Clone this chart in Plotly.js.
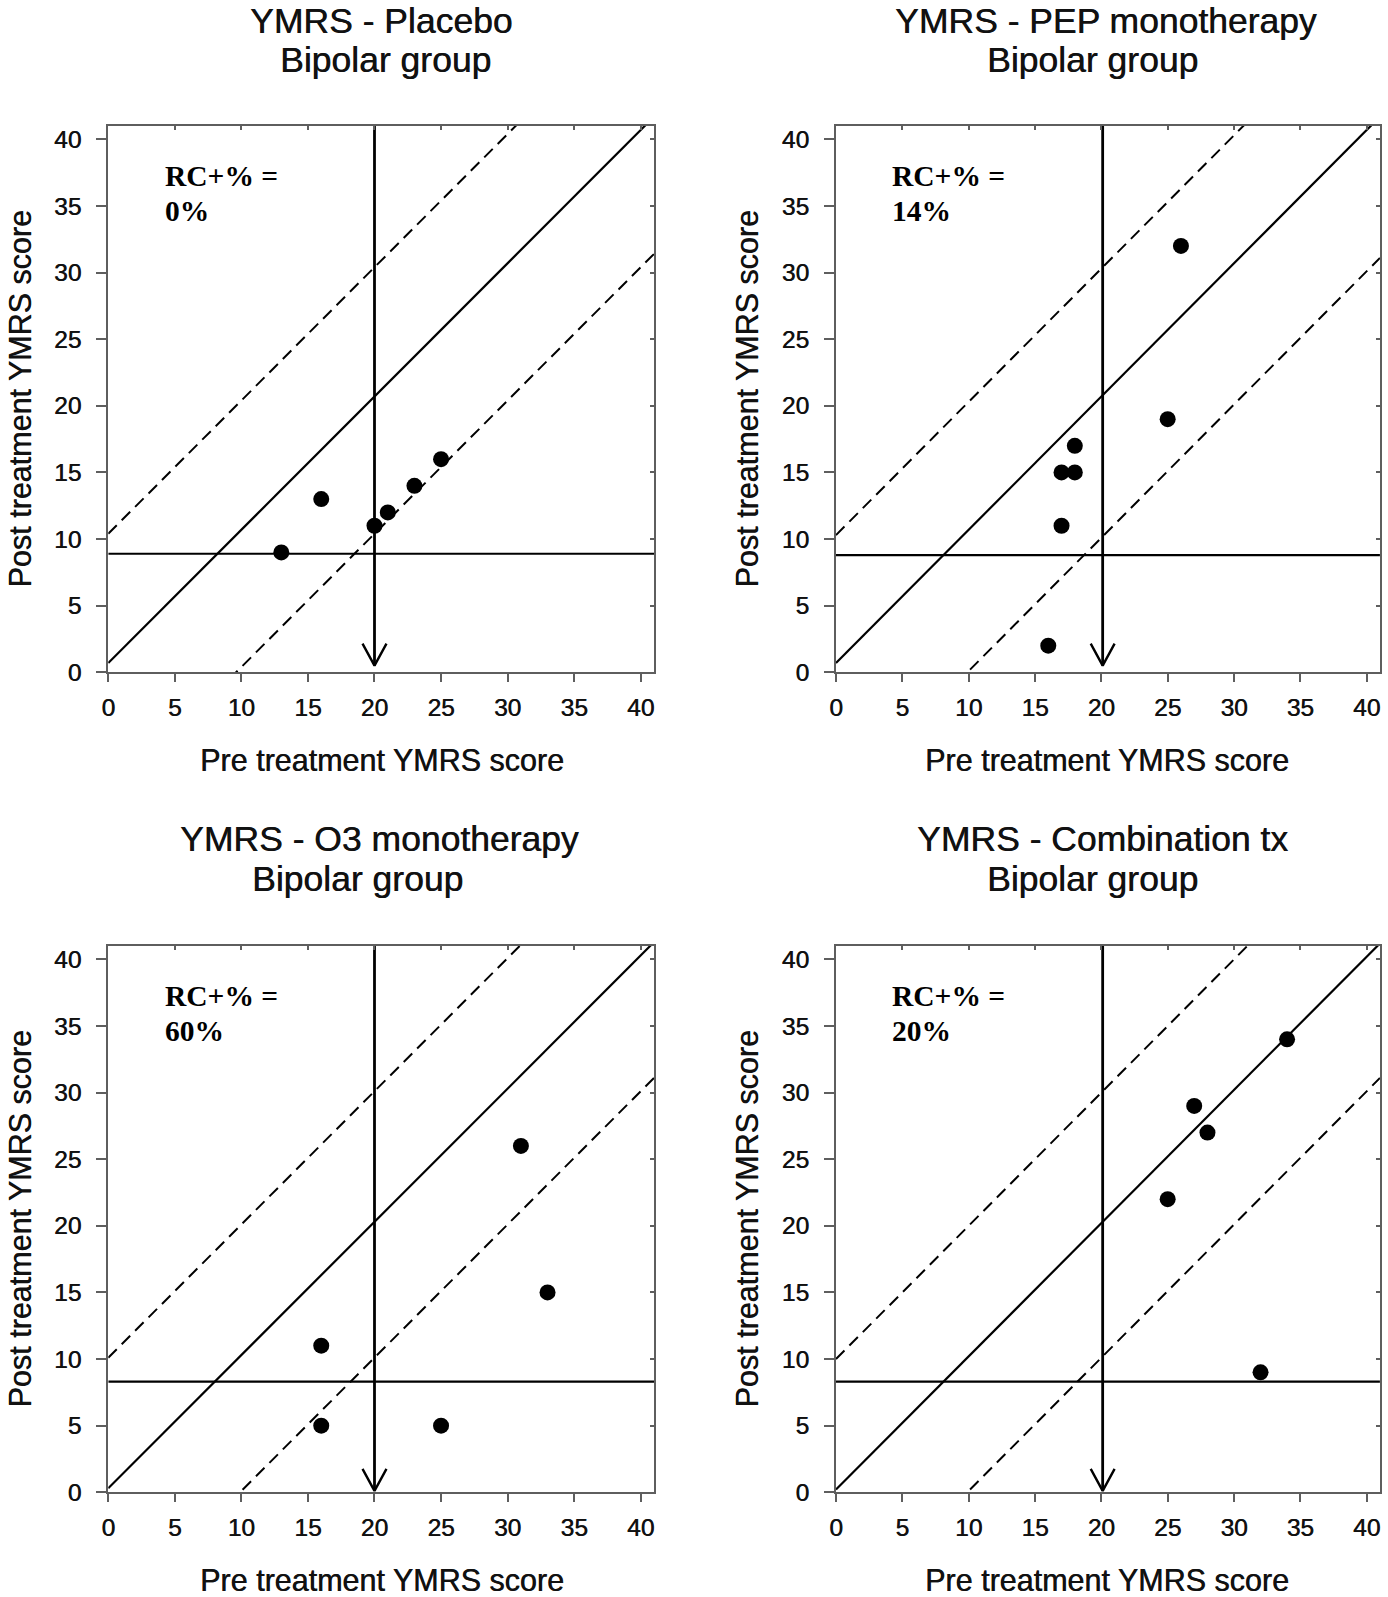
<!DOCTYPE html>
<html>
<head>
<meta charset="utf-8">
<script src="https://cdn.plot.ly/plotly-3.0.1.min.js"></script>
<style>
  html, body { margin: 0; padding: 0; background: #ffffff; }
  #chart { width: 1388px; height: 1597px; }
</style>
</head>
<body>
<div id="chart"></div>
<script>
// ---------------- DATA ----------------
const panelTitles = ['YMRS - Placebo', 'YMRS - PEP monotherapy', 'YMRS - O3 monotherapy', 'YMRS - Combination tx'];
const groupLabel = 'Bipolar group';
const xAxisLabel = 'Pre treatment YMRS score';
const yAxisLabel = 'Post treatment YMRS score';
const rcLabel = 'RC+% =';
const rcPercent = ['0%', '14%', '60%', '20%'];
const tickValues = [0, 5, 10, 15, 20, 25, 30, 35, 40];

const placeboPre  = [13, 16, 20, 21, 23, 25];
const placeboPost = [9, 13, 11, 12, 14, 16];
const pepPre      = [16, 17, 17, 18, 18, 25, 26];
const pepPost     = [2, 11, 15, 15, 17, 19, 32];
const o3Pre       = [16, 16, 25, 31, 33];
const o3Post      = [5, 11, 5, 26, 15];
const comboPre    = [25, 27, 28, 32, 34];
const comboPost   = [22, 29, 27, 9, 34];

// reference lines
const diagOffset   = [0.7, 0.7, 0.3, 0.2];     // solid no-change line: post = pre + offset
const upperOffset  = [10.4, 10.3, 10.1, 10.0]; // dashed upper RC band
const lowerOffset  = [-9.6, -9.9, -9.9, -9.9]; // dashed lower RC band
const cutoffPost   = [8.9, 8.8, 8.3, 8.3];     // horizontal remission cutoff
const cutoffPre    = [20, 20.1, 20, 20.1];     // vertical arrow (pre-treatment cutoff)
const arrowTip     = [0.5, 0.5, 0.1, 0.1];

// ---------------- BUILD ----------------
const preSets  = [placeboPre, pepPre, o3Pre, comboPre];
const postSets = [placeboPost, pepPost, o3Post, comboPost];

const W = 1388, H = 1597;
const AXMAX = 41;
const xDomains = [[0.0780, 0.4712], [0.6023, 0.9942], [0.0780, 0.4712], [0.6023, 0.9942]];
const yDomains = [[0.5790, 0.9211], [0.5790, 0.9211], [0.0656, 0.4076], [0.0656, 0.4076]];

const traces = [];
const layout = {
  width: W, height: H,
  margin: {l: 0, r: 0, t: 0, b: 0},
  paper_bgcolor: '#ffffff', plot_bgcolor: '#ffffff',
  showlegend: false,
  font: {family: 'Liberation Sans, Arial, sans-serif', color: '#111'},
  annotations: []
};

const lineCol = '#5e5e5e';
const heavy = '0.5px 0 0 #222';
const tickFont = {family: 'Liberation Sans, Arial, sans-serif', size: 24.5, color: '#111', shadow: heavy};
const rcFont = {family: 'Liberation Serif, Times New Roman, serif', size: 29.5, color: '#000'};

for (let i = 0; i < 4; i++) {
  const n = i + 1;
  const xa = 'x' + n, ya = 'y' + n;
  const xk = 'xaxis' + n, yk = 'yaxis' + n;
  const ox = 'x' + (n + 4), oy = 'y' + (n + 4);

  layout[xk] = {
    domain: xDomains[i], range: [0, AXMAX], anchor: ya,
    tickmode: 'array', tickvals: tickValues,
    ticks: 'outside', ticklen: 8, tickwidth: 2, tickcolor: lineCol,
    showline: true, linecolor: lineCol, linewidth: 2, mirror: true,
    showgrid: false, zeroline: false, tickfont: tickFont,
    ticklabelstandoff: 4,
    fixedrange: true
  };
  layout[yk] = {
    domain: yDomains[i], range: [0, AXMAX], anchor: xa,
    tickmode: 'array', tickvals: tickValues,
    ticks: 'outside', ticklen: 10, tickwidth: 2, tickcolor: lineCol,
    showline: true, linecolor: lineCol, linewidth: 2, mirror: true,
    showgrid: false, zeroline: false, tickfont: tickFont,
    ticklabelstandoff: 10,
    fixedrange: true
  };
  // inner ticks on top/right
  layout['xaxis' + (n + 4)] = {
    overlaying: xa, anchor: oy, side: 'top', range: [0, AXMAX],
    tickmode: 'array', tickvals: tickValues,
    ticks: 'inside', ticklen: 4, tickwidth: 2, tickcolor: lineCol,
    showticklabels: false, showline: false, showgrid: false, zeroline: false
  };
  layout['yaxis' + (n + 4)] = {
    overlaying: ya, anchor: ox, side: 'right', range: [0, AXMAX],
    tickmode: 'array', tickvals: tickValues,
    ticks: 'inside', ticklen: 4, tickwidth: 2, tickcolor: lineCol,
    showticklabels: false, showline: false, showgrid: false, zeroline: false
  };
  traces.push({x: [], y: [], xaxis: ox, yaxis: oy, type: 'scatter', mode: 'markers', hoverinfo: 'skip'});

  const lx = [0, AXMAX];
  // solid diagonal
  traces.push({x: lx, y: lx.map(v => v + diagOffset[i]), xaxis: xa, yaxis: ya, mode: 'lines',
    line: {color: '#000', width: 2.2}, hoverinfo: 'skip'});
  // dashed bands
  traces.push({x: lx, y: lx.map(v => v + upperOffset[i]), xaxis: xa, yaxis: ya, mode: 'lines',
    line: {color: '#000', width: 2, dash: '12px,7px'}, hoverinfo: 'skip'});
  traces.push({x: lx, y: lx.map(v => v + lowerOffset[i]), xaxis: xa, yaxis: ya, mode: 'lines',
    line: {color: '#000', width: 2, dash: '12px,7px'}, hoverinfo: 'skip'});
  // horizontal cutoff
  traces.push({x: lx, y: [cutoffPost[i], cutoffPost[i]], xaxis: xa, yaxis: ya, mode: 'lines',
    line: {color: '#000', width: 2.2}, hoverinfo: 'skip'});
  // vertical arrow shaft + open head
  const cx = cutoffPre[i], tip = arrowTip[i];
  traces.push({x: [cx, cx], y: [AXMAX + 0.5, tip], xaxis: xa, yaxis: ya, mode: 'lines',
    line: {color: '#000', width: 2.8}, hoverinfo: 'skip'});
  traces.push({x: [cx - 0.9, cx, cx + 0.9], y: [tip + 1.65, tip, tip + 1.65], xaxis: xa, yaxis: ya, mode: 'lines',
    line: {color: '#000', width: 2.4}, hoverinfo: 'skip'});
  // data points
  traces.push({x: preSets[i], y: postSets[i], xaxis: xa, yaxis: ya, mode: 'markers', type: 'scatter',
    marker: {color: '#000', size: 16, line: {width: 0}}, cliponaxis: false});

  // RC annotation (two lines)
  layout.annotations.push({
    xref: xa, yref: ya, x: 4.1, y: 37.25, xanchor: 'left', yanchor: 'middle', align: 'left',
    text: '<b>' + rcLabel + '</b>', showarrow: false, font: rcFont
  });
  layout.annotations.push({
    xref: xa, yref: ya, x: 4.1, y: 34.6, xanchor: 'left', yanchor: 'middle', align: 'left',
    text: '<b>' + rcPercent[i] + '</b>', showarrow: false, font: rcFont
  });
}

// titles & axis titles (paper coords from pixel positions)
const px = v => v / W, py = v => 1 - v / H;
const titleL1X = [381, 1106, 380, 1102];
const titleL2X = [385, 1092, 357, 1092];
const titleL1Y = [20.5, 20.5, 839, 839];
const titleL2Y = [60, 60, 879, 879];
const xTitleX = [381.5, 1107, 381.5, 1107];
const xTitleY = [760, 760, 1580, 1580];
const yTitleX = [19.5, 746.5, 19.5, 746.5];
const yTitleY = [399, 399, 1219, 1219];
const titleFont = {family: 'Liberation Sans, Arial, sans-serif', size: 35.5, color: '#111', shadow: heavy};
const axTitleFont = {family: 'Liberation Sans, Arial, sans-serif', size: 30.5, color: '#111', shadow: heavy};

for (let i = 0; i < 4; i++) {
  layout.annotations.push({xref: 'paper', yref: 'paper', x: px(titleL1X[i]), y: py(titleL1Y[i]),
    xanchor: 'center', yanchor: 'middle', text: panelTitles[i], showarrow: false, font: titleFont});
  layout.annotations.push({xref: 'paper', yref: 'paper', x: px(titleL2X[i]), y: py(titleL2Y[i]),
    xanchor: 'center', yanchor: 'middle', text: groupLabel, showarrow: false, font: titleFont});
  layout.annotations.push({xref: 'paper', yref: 'paper', x: px(xTitleX[i]), y: py(xTitleY[i]),
    xanchor: 'center', yanchor: 'middle', text: xAxisLabel, showarrow: false, font: axTitleFont});
  layout.annotations.push({xref: 'paper', yref: 'paper', x: px(yTitleX[i]), y: py(yTitleY[i]),
    xanchor: 'center', yanchor: 'middle', text: yAxisLabel, showarrow: false, textangle: -90, font: axTitleFont});
}

Plotly.newPlot('chart', traces, layout, {staticPlot: true, displayModeBar: false});
</script>
</body>
</html>
